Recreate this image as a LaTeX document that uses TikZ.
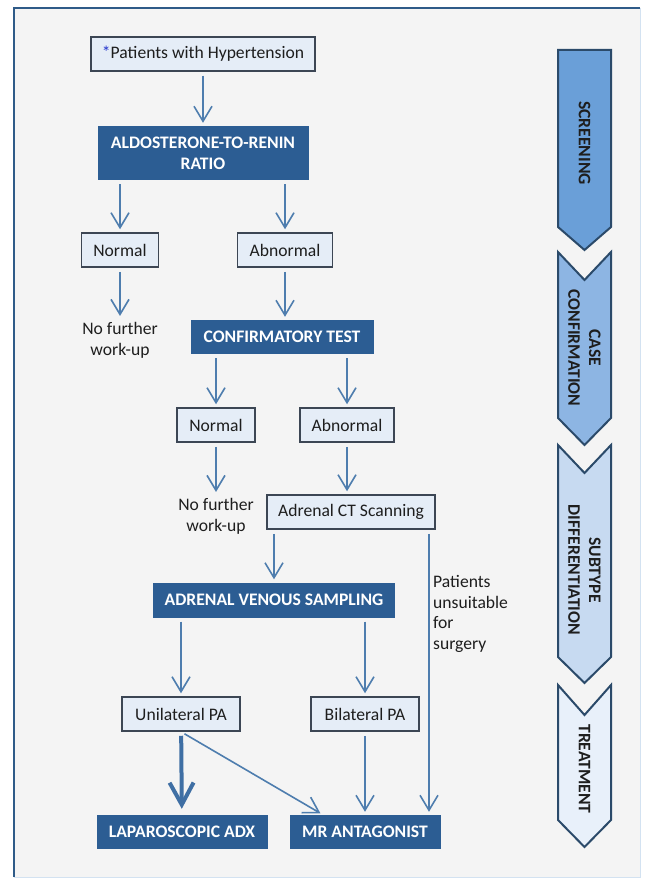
\documentclass[tikz,border=0pt]{standalone}
\usepackage{fontspec}
\setmainfont{Carlito}
\usepackage{xcolor}
\usepackage{tikz}
\usetikzlibrary{arrows.meta}
\definecolor{page}{HTML}{FFFFFF}
\definecolor{panel}{HTML}{F4F4F4}
\definecolor{frame}{HTML}{2F5B88}
\definecolor{frameedge}{HTML}{D3E2F1}
\definecolor{boxbg}{HTML}{E5EDF7}
\definecolor{boxline}{HTML}{3C4654}
\definecolor{navy}{HTML}{2C5D93}
\definecolor{flow}{HTML}{4E7DAE}
\definecolor{flowdark}{HTML}{3F6FA4}
\definecolor{star}{HTML}{2233CC}
\definecolor{ink}{HTML}{1E1E1E}
\definecolor{stepa}{HTML}{6A9FD8}
\definecolor{stepb}{HTML}{8DB5E3}
\definecolor{stepc}{HTML}{C7DAF1}
\definecolor{stepd}{HTML}{E8F0FA}
\definecolor{stepline}{HTML}{2B4A6A}
\newcommand{\boxfont}{\fontsize{17.6}{20.7}\selectfont}
\tikzset{
  lbox/.style={draw=boxline, fill=boxbg, line width=1.5pt, text=ink, font=\boxfont, inner sep=0pt, minimum height=34pt},
  dbox/.style={fill=navy, text=white, font=\boxfont\bfseries, inner sep=0pt, minimum height=34pt, align=center},
  note/.style={text=ink, font=\boxfont, inner sep=0pt, align=center},
  arw/.style={draw=flow, line width=1.6pt, -{Straight Barb[length=15pt,width=18pt]}, shorten <=4pt, shorten >=3pt},
  bigarw/.style={draw=flowdark, line width=4pt, -{Straight Barb[length=22pt,width=24pt]}, shorten <=4pt, shorten >=6pt},
  stage/.style={draw=stepline, line width=2pt, line join=miter},
  stagetxt/.style={text=ink, font=\boxfont\bfseries, rotate=-90, align=center, inner sep=0pt},
}

\begin{document}
\begin{tikzpicture}[x=1pt, y=-1pt]
  \useasboundingbox (0,0) rectangle (645,880);
  \fill[page] (0,0) rectangle (645,880);
  \fill[panel] (14,8) rectangle (640,877);
  \draw[frameedge, line width=1pt] (640,8) -- (640,877) -- (14,877);
  \draw[frame, line width=2pt] (14,877) -- (14,8) -- (640,8);

  % flow chart
  \node[lbox, minimum width=224pt] (pat) at (203,54) {\textcolor{star}{*}Patients with Hypertension};
  \node[dbox, minimum width=211pt, minimum height=54pt] (arr) at (203,153) {ALDOSTERONE-TO-RENIN\\RATIO};
  \node[lbox, minimum width=77pt] (norm1) at (120,250) {Normal};
  \node[lbox, minimum width=95pt] (abn1) at (285,250) {Abnormal};
  \node[note] (nfw1) at (120,340) {No further\\work-up};
  \node[dbox, minimum width=183pt] (conf) at (282,337) {CONFIRMATORY TEST};
  \node[lbox, minimum width=78pt] (norm2) at (216,425) {Normal};
  \node[lbox, minimum width=94pt] (abn2) at (347,425) {Abnormal};
  \node[note] (nfw2) at (216,516) {No further\\work-up};
  \node[lbox, minimum width=168pt] (ct) at (351,512) {Adrenal CT Scanning};
  \node[dbox, minimum width=242pt, minimum height=35pt] (avs) at (274,600) {ADRENAL VENOUS SAMPLING};
  \node[note, anchor=west, align=left] (unfit) at (433,614) {Patients\\unsuitable\\for\\surgery};
  \node[lbox, minimum width=118pt] (uni) at (181,714) {Unilateral PA};
  \node[lbox, minimum width=108pt] (bil) at (365,714) {Bilateral PA};
  \node[dbox, minimum width=171pt] (lap) at (182,832) {LAPAROSCOPIC ADX};
  \node[dbox, minimum width=151pt] (mr) at (365,832) {MR ANTAGONIST};
  \coordinate (bypass) at (429,0);

  \draw[arw] (pat) -- (arr);
  \draw[arw] (arr.south -| norm1) -- (norm1);
  \draw[arw] (arr.south -| abn1) -- (abn1);
  \draw[arw, shorten >=6pt] (norm1) -- (nfw1);
  \draw[arw] (abn1) -- (abn1 |- conf.north);
  \draw[arw] (conf.south -| norm2) -- (norm2);
  \draw[arw] (conf.south -| abn2) -- (abn2);
  \draw[arw, shorten >=6pt] (norm2) -- (nfw2);
  \draw[arw] (abn2) -- (abn2 |- ct.north);
  \draw[arw] (ct.south -| avs) -- (avs);
  \draw[arw] (ct.south -| bypass) -- (mr.north -| bypass);
  \draw[arw] (avs.south -| uni) -- (uni);
  \draw[arw] (avs.south -| bil) -- (bil);
  \draw[bigarw] (uni) -- (lap);
  \draw[arw] (uni.south) -- ([xshift=-42pt]mr.north);
  \draw[arw] (bil) -- (mr);

  % stages
  \draw[stage, fill=stepa] (558,50) -- (611,50) -- (611,227) -- (584.5,250) -- (558,227) -- cycle;
  \draw[stage, fill=stepb] (558,252) -- (584.5,280) -- (611,252) -- (611,418) -- (584.5,445) -- (558,418) -- cycle;
  \draw[stage, fill=stepc] (558,445) -- (584.5,473) -- (611,445) -- (611,657) -- (584.5,683) -- (558,657) -- cycle;
  \draw[stage, fill=stepd] (558,685) -- (584.5,715) -- (611,685) -- (611,820) -- (584.5,847) -- (558,820) -- cycle;
  \node[stagetxt] (scr) at (584.5,143) {SCREENING};
  \node[stagetxt] (cas) at (584.5,348) {CASE\\CONFIRMATION};
  \node[stagetxt] (sub) at (584.5,570) {SUBTYPE\\DIFFERENTIATION};
  \node[stagetxt] (trt) at (584.5,769) {TREATMENT};
\end{tikzpicture}
\end{document}
